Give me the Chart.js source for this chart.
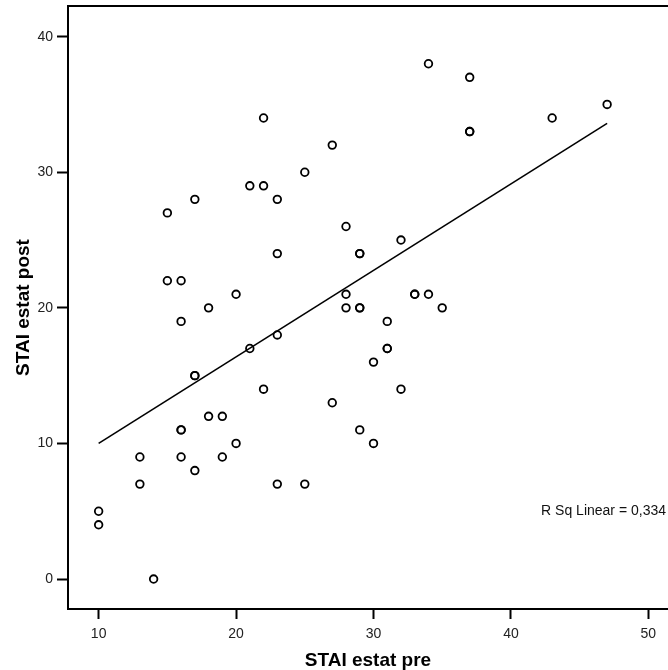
<!DOCTYPE html>
<html>
<head>
<meta charset="utf-8">
<script src="https://cdn.jsdelivr.net/npm/chart.js@4/dist/chart.umd.min.js"></script>
<style>
  html, body { margin: 0; padding: 0; background: #fff; overflow: hidden; }
  #wrap { width: 668px; height: 670px; }
</style>
</head>
<body>
<div id="wrap"><canvas id="scatter" width="668" height="670"></canvas></div>
<script>
// STAI scores, pre vs post (repeated pairs are listed twice)
const preScores = [10, 10, 14, 13, 13, 16, 16, 16, 17, 18, 19, 19, 20, 23, 25,
    15, 15, 16, 16, 17, 17, 17, 18, 20, 21, 21, 22, 22, 23, 22, 23, 23, 25, 27,
    28, 28, 28, 29, 29, 29, 29, 27, 29, 30, 30, 31, 31, 31, 32, 32, 33, 33, 34,
    35, 34, 37, 37, 37, 43, 47];
const postScores = [5, 4, 0, 9, 7, 11, 11, 9, 8, 12, 12, 9, 10, 7, 7,
    27, 22, 22, 19, 28, 15, 15, 20, 21, 17, 29, 29, 34, 28, 14, 18, 24, 30, 32,
    26, 21, 20, 24, 24, 20, 20, 13, 11, 10, 16, 19, 17, 17, 25, 14, 21, 21, 21,
    20, 38, 37, 33, 33, 34, 35];

// fit line end points
const fitX = [10, 47];
const fitY = [10.0, 33.6];
const rSqLabel = 'R Sq Linear = 0,334';

const xTicks = [10, 20, 30, 40, 50];
const yTicks = [0, 10, 20, 30, 40];

const FONT = '"Liberation Sans", Arial, Helvetica, sans-serif';

// top frame line + R Sq annotation
const frameAndLabel = {
    id: 'frameAndLabel',
    afterDraw(chart) {
        const { ctx, chartArea, scales } = chart;
        ctx.save();
        ctx.strokeStyle = '#000';
        ctx.lineWidth = 2;
        ctx.beginPath();
        ctx.moveTo(chartArea.left - 1, chartArea.top);
        ctx.lineTo(chartArea.right, chartArea.top);
        ctx.stroke();

        ctx.fillStyle = '#111';
        ctx.font = '14px ' + FONT;
        ctx.textAlign = 'right';
        ctx.textBaseline = 'middle';
        ctx.fillText(rSqLabel, chartArea.right - 2, scales.y.getPixelForValue(5));
        ctx.restore();
    }
};

document.addEventListener('DOMContentLoaded', () => {
    const ctx = document.getElementById('scatter').getContext('2d');
    const points = preScores.map((x, i) => ({ x: x, y: postScores[i] }));
    const fit = fitX.map((x, i) => ({ x: x, y: fitY[i] }));

    new Chart(ctx, {
        type: 'scatter',
        data: {
            datasets: [{
                data: points,
                pointRadius: 3.8,
                pointBorderWidth: 1.8,
                pointBorderColor: '#000',
                pointBackgroundColor: 'rgba(0,0,0,0)',
                showLine: false
            }, {
                type: 'line',
                data: fit,
                borderColor: '#000',
                borderWidth: 1.6,
                pointRadius: 0,
                fill: false,
                tension: 0
            }]
        },
        options: {
            responsive: false,
            animation: false,
            layout: { autoPadding: false, padding: { top: 6, right: 0, left: 0, bottom: 0 } },
            plugins: {
                legend: { display: false },
                tooltip: { enabled: false }
            },
            scales: {
                x: {
                    type: 'linear',
                    min: 7.77,
                    max: 51.43,
                    afterBuildTicks: s => { s.ticks = xTicks.map(v => ({ value: v })); },
                    afterFit: s => { s.height = 61; s.paddingLeft = 0; s.paddingRight = 0; },
                    grid: {
                        display: true,
                        drawOnChartArea: false,
                        drawTicks: true,
                        tickLength: 10,
                        tickWidth: 2,
                        tickColor: '#000'
                    },
                    border: { display: true, color: '#000', width: 2 },
                    ticks: {
                        color: '#222',
                        font: { family: FONT, size: 14 },
                        padding: 7,
                        maxRotation: 0
                    },
                    title: {
                        display: true,
                        text: 'STAI estat pre',
                        color: '#000',
                        font: { family: FONT, size: 19, weight: 'bold' },
                        padding: { top: 0, bottom: -2 }
                    }
                },
                y: {
                    type: 'linear',
                    min: -2.21,
                    max: 42.26,
                    afterBuildTicks: s => { s.ticks = yTicks.map(v => ({ value: v })); },
                    afterFit: s => { s.width = 68; s.paddingTop = 0; s.paddingBottom = 0; },
                    grid: {
                        display: true,
                        drawOnChartArea: false,
                        drawTicks: true,
                        tickLength: 11,
                        tickWidth: 2,
                        tickColor: '#000'
                    },
                    border: { display: true, color: '#000', width: 2 },
                    ticks: {
                        color: '#222',
                        font: { family: FONT, size: 14 },
                        padding: 4
                    },
                    title: {
                        display: true,
                        text: 'STAI estat post',
                        color: '#000',
                        font: { family: FONT, size: 19, weight: 'bold' },
                        padding: { top: 12, bottom: 0 }
                    }
                }
            }
        },
        plugins: [frameAndLabel]
    });
});
</script>
</body>
</html>
